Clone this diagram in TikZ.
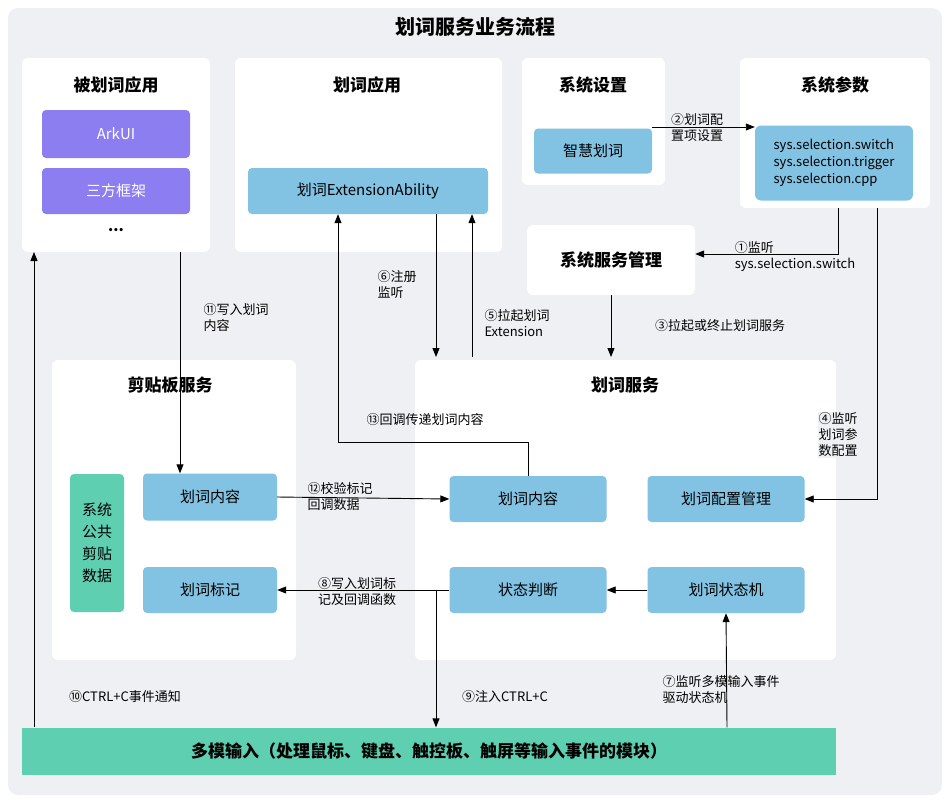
\documentclass[tikz,border=0pt]{standalone}
\usepackage{fontspec}
\setmainfont{Noto Sans CJK SC}
\usetikzlibrary{arrows.meta}
\definecolor{bg}{HTML}{EEF0F3}
\definecolor{blu}{HTML}{82C2E2}
\definecolor{pur}{HTML}{8C7DF0}
\definecolor{grn}{HTML}{5FCFB2}
\begin{document}
\begin{tikzpicture}[x=1pt,y=-1pt,
 panel/.style={fill=white,rounded corners=6pt},
 blk/.style={fill=blu,rounded corners=4pt,font=\fontsize{15}{18}\selectfont},
 ttl/.style={font=\fontsize{17}{20}\selectfont\bfseries},
 lbl/.style={font=\fontsize{13}{16}\selectfont,align=left,inner sep=1pt},
 arr/.style={-{Triangle[length=9pt,width=7pt]},line width=0.9pt}]
\useasboundingbox (0,0) rectangle (950,801);
\fill[bg,rounded corners=10pt] (8,8) rectangle (942,795);
\node[font=\fontsize{20}{24}\selectfont\bfseries] (title) at (475,27) {划词服务业务流程};
% panels
\fill[panel] (22,58) rectangle (210,252);
\node[ttl] (t1) at (116,85) {被划词应用};
\fill[pur,rounded corners=4pt] (42,110) rectangle (190,158);
\node[font=\fontsize{15}{18}\selectfont,text=white] (ark) at (116,134) {ArkUI};
\fill[pur,rounded corners=4pt] (42,168) rectangle (190,214);
\node[font=\fontsize{15}{18}\selectfont,text=white] (sf) at (116,191) {三方框架};
\node[font=\fontsize{15}{18}\selectfont\bfseries] (dots) at (116,230) {...};
\coordinate (appA) at (116,252);
\fill[panel] (235,58) rectangle (502,252);
\node[ttl] (t2) at (367,85) {划词应用};
\fill[panel] (522,58) rectangle (665,185);
\node[ttl] (t3) at (593,85) {系统设置};
\fill[panel] (740,58) rectangle (930,208);
\node[ttl] (t4) at (835,85) {系统参数};
\fill[panel] (527,225) rectangle (695,295);
\fill[panel] (52,360) rectangle (296,660);
\node[ttl] (t5) at (170,385) {剪贴板服务};
\fill[panel] (415,360) rectangle (836,660);
\node[ttl] (t6) at (625,385) {划词服务};
% blocks
\node[blk,minimum width=240pt,minimum height=46pt] (ext) at (368,191) {划词ExtensionAbility};
\node[blk,minimum width=118pt,minimum height=45pt] (zh) at (593,151) {智慧划词};
\node[fill=blu,rounded corners=6pt,minimum width=158pt,minimum height=75pt,align=left,font=\fontsize{13}{17}\selectfont,inner sep=2pt] (par) at (834,163) {sys.selection.switch\\sys.selection.trigger\\sys.selection.cpp};
\node[ttl,minimum width=168pt,minimum height=70pt] (ssm) at (611,260) {系统服务管理};
\node[fill=grn,rounded corners=4pt,minimum width=54pt,minimum height=138pt,align=center,font=\fontsize{15}{22}\selectfont] (pub) at (97,543) {系统\\公共\\剪贴\\数据};
\node[blk,minimum width=134pt,minimum height=47pt] (cc) at (210,497) {划词内容};
\node[blk,minimum width=134pt,minimum height=46pt] (cm) at (210,590) {划词标记};
\node[blk,minimum width=157pt,minimum height=46pt] (sc) at (528,499) {划词内容};
\node[blk,minimum width=157pt,minimum height=46pt] (cfg) at (726,499) {划词配置管理};
\node[blk,minimum width=157pt,minimum height=46pt] (jd) at (528,590) {状态判断};
\node[blk,minimum width=157pt,minimum height=46pt] (sm) at (726,590) {划词状态机};
\node[fill=grn,minimum width=814pt,minimum height=47pt,font=\fontsize{17}{20}\selectfont\bfseries] (mm) at (429,751) {多模输入（处理鼠标、键盘、触控板、触屏等输入事件的模块）};
% arrows
\draw[arr] (zh.north east |- 0,127) -- (par.north west |- 740,127) coordinate (p2);
\node[lbl] (l2) at (697,128) {②划词配\\置项设置};
\draw[arr] (838,208) -- (838,254) -- (ssm.east |- 0,254);
\node[lbl] (l1) at (795,257) {①监听\\sys.selection.switch};
\draw[arr] (ssm.south) -- (611,357);
\node[lbl] (l3) at (720,326) {③拉起或终止划词服务};
\draw[arr] (877,208) -- (877,499) -- (cfg.east);
\node[lbl,fill=bg] (l4) at (838,435) {④监听\\划词参\\数配置};
\draw[arr] (ext.south -| 436,0) -- (436,357);
\node[lbl] (l6) at (397,285) {⑥注册\\监听};
\draw[arr] (472,357) -- (ext.south -| 472,0);
\node[lbl] (l5) at (517,323) {⑤拉起划词\\Extension};
\draw[arr] (sc.north) -- (528,442) -- (338,442) -- (ext.south -| 338,0);
\node[lbl] (l13) at (425,420) {⑬回调传递划词内容};
\draw[arr] (180,252) -- (cc.north -| 180,0);
\node[lbl] (l11) at (236,318) {⑪写入划词\\内容};
\draw[arr] (cc.east) -- (sc.west);
\node[lbl] (l12) at (340,497) {⑫校验标记\\回调数据};
\draw[arr] (jd.west) -- (cm.east);
\node[lbl] (l8) at (357,592) {⑧写入划词标\\记及回调函数};
\draw[arr] (sm.west) -- (jd.east);
\draw[arr] (mm.north -| 727,0) -- (sm.south);
\node[lbl] (l7) at (721,690) {⑦监听多模输入事件\\驱动状态机};
\draw[arr] (436,591) -- (mm.north -| 436,0);
\node[lbl] (l9) at (505,697) {⑨注入CTRL+C};
\draw[arr] (mm.north -| 34,0) -- (34,252);
\node[lbl] (l10) at (125,697) {⑩CTRL+C事件通知};
\end{tikzpicture}
\end{document}
